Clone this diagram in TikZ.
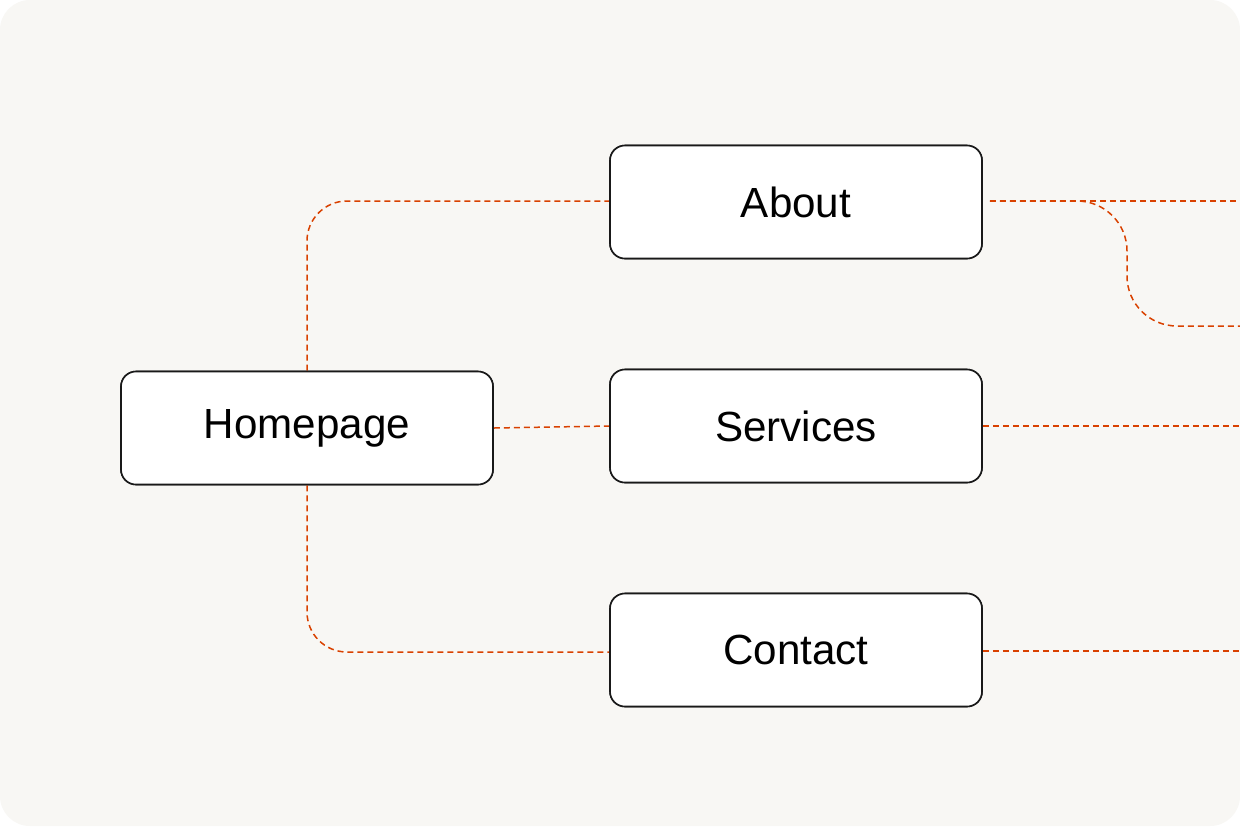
\documentclass[tikz,border=0pt]{standalone}
\usepackage{fontspec}
\setmainfont{Liberation Sans}
\begin{document}
\begin{tikzpicture}[x=0.02cm,y=-0.02cm,
  box/.style={draw=black!90,line width=1.6*0.02cm,fill=white,rounded corners=15*0.02cm,minimum width=372*0.02cm,minimum height=113*0.02cm,font=\fontsize{24}{28}\selectfont},
  link/.style={draw=orange!60!red!85!black,line width=1.5*0.02cm,dash pattern=on 6*0.02cm off 4*0.02cm,rounded corners=40*0.02cm}]
\useasboundingbox (0,0) rectangle (1240,826);
\fill[white] (0,0) rectangle (1240,826);
\fill[fill={rgb,255:red,248;green,247;blue,244}] [rounded corners=30*0.02cm] (0,0) rectangle (1240,826);
\coordinate (e1) at (1240,201);
\coordinate (e2) at (1240,326);
\coordinate (e3) at (1240,426);
\coordinate (e4) at (1240,651);
\coordinate (b) at (1075,201);
\node[box] (home) at (307,428) {Homepage};
\node[box] (about) at (796,202) {About};
\node[box] (serv) at (796,426) {Services};
\node[box] (cont) at (796,650) {Contact};
\begin{scope}[on background layer/.style={}]
\end{scope}
\draw[link] (home.north) -- (307,201) -- (about.west|-0,201);
\draw[link] (home.south) -- (307,652) -- (cont.west|-0,652);
\draw[link] (home.east) -- (serv.west);
\draw[link] ([xshift=7*0.02cm]about.east|-0,201) -- (e1);
\draw[link,rounded corners=50*0.02cm] ([xshift=7*0.02cm]about.east|-0,201) -- (1127,201) -- (1127,326) -- (e2);
\draw[link] (serv.east) -- (e3);
\draw[link] (cont.east|-0,651) -- (e4);
\node[box] at (home) {Homepage};
\node[box] at (about) {About};
\node[box] at (serv) {Services};
\node[box] at (cont) {Contact};
\end{tikzpicture}
\end{document}
